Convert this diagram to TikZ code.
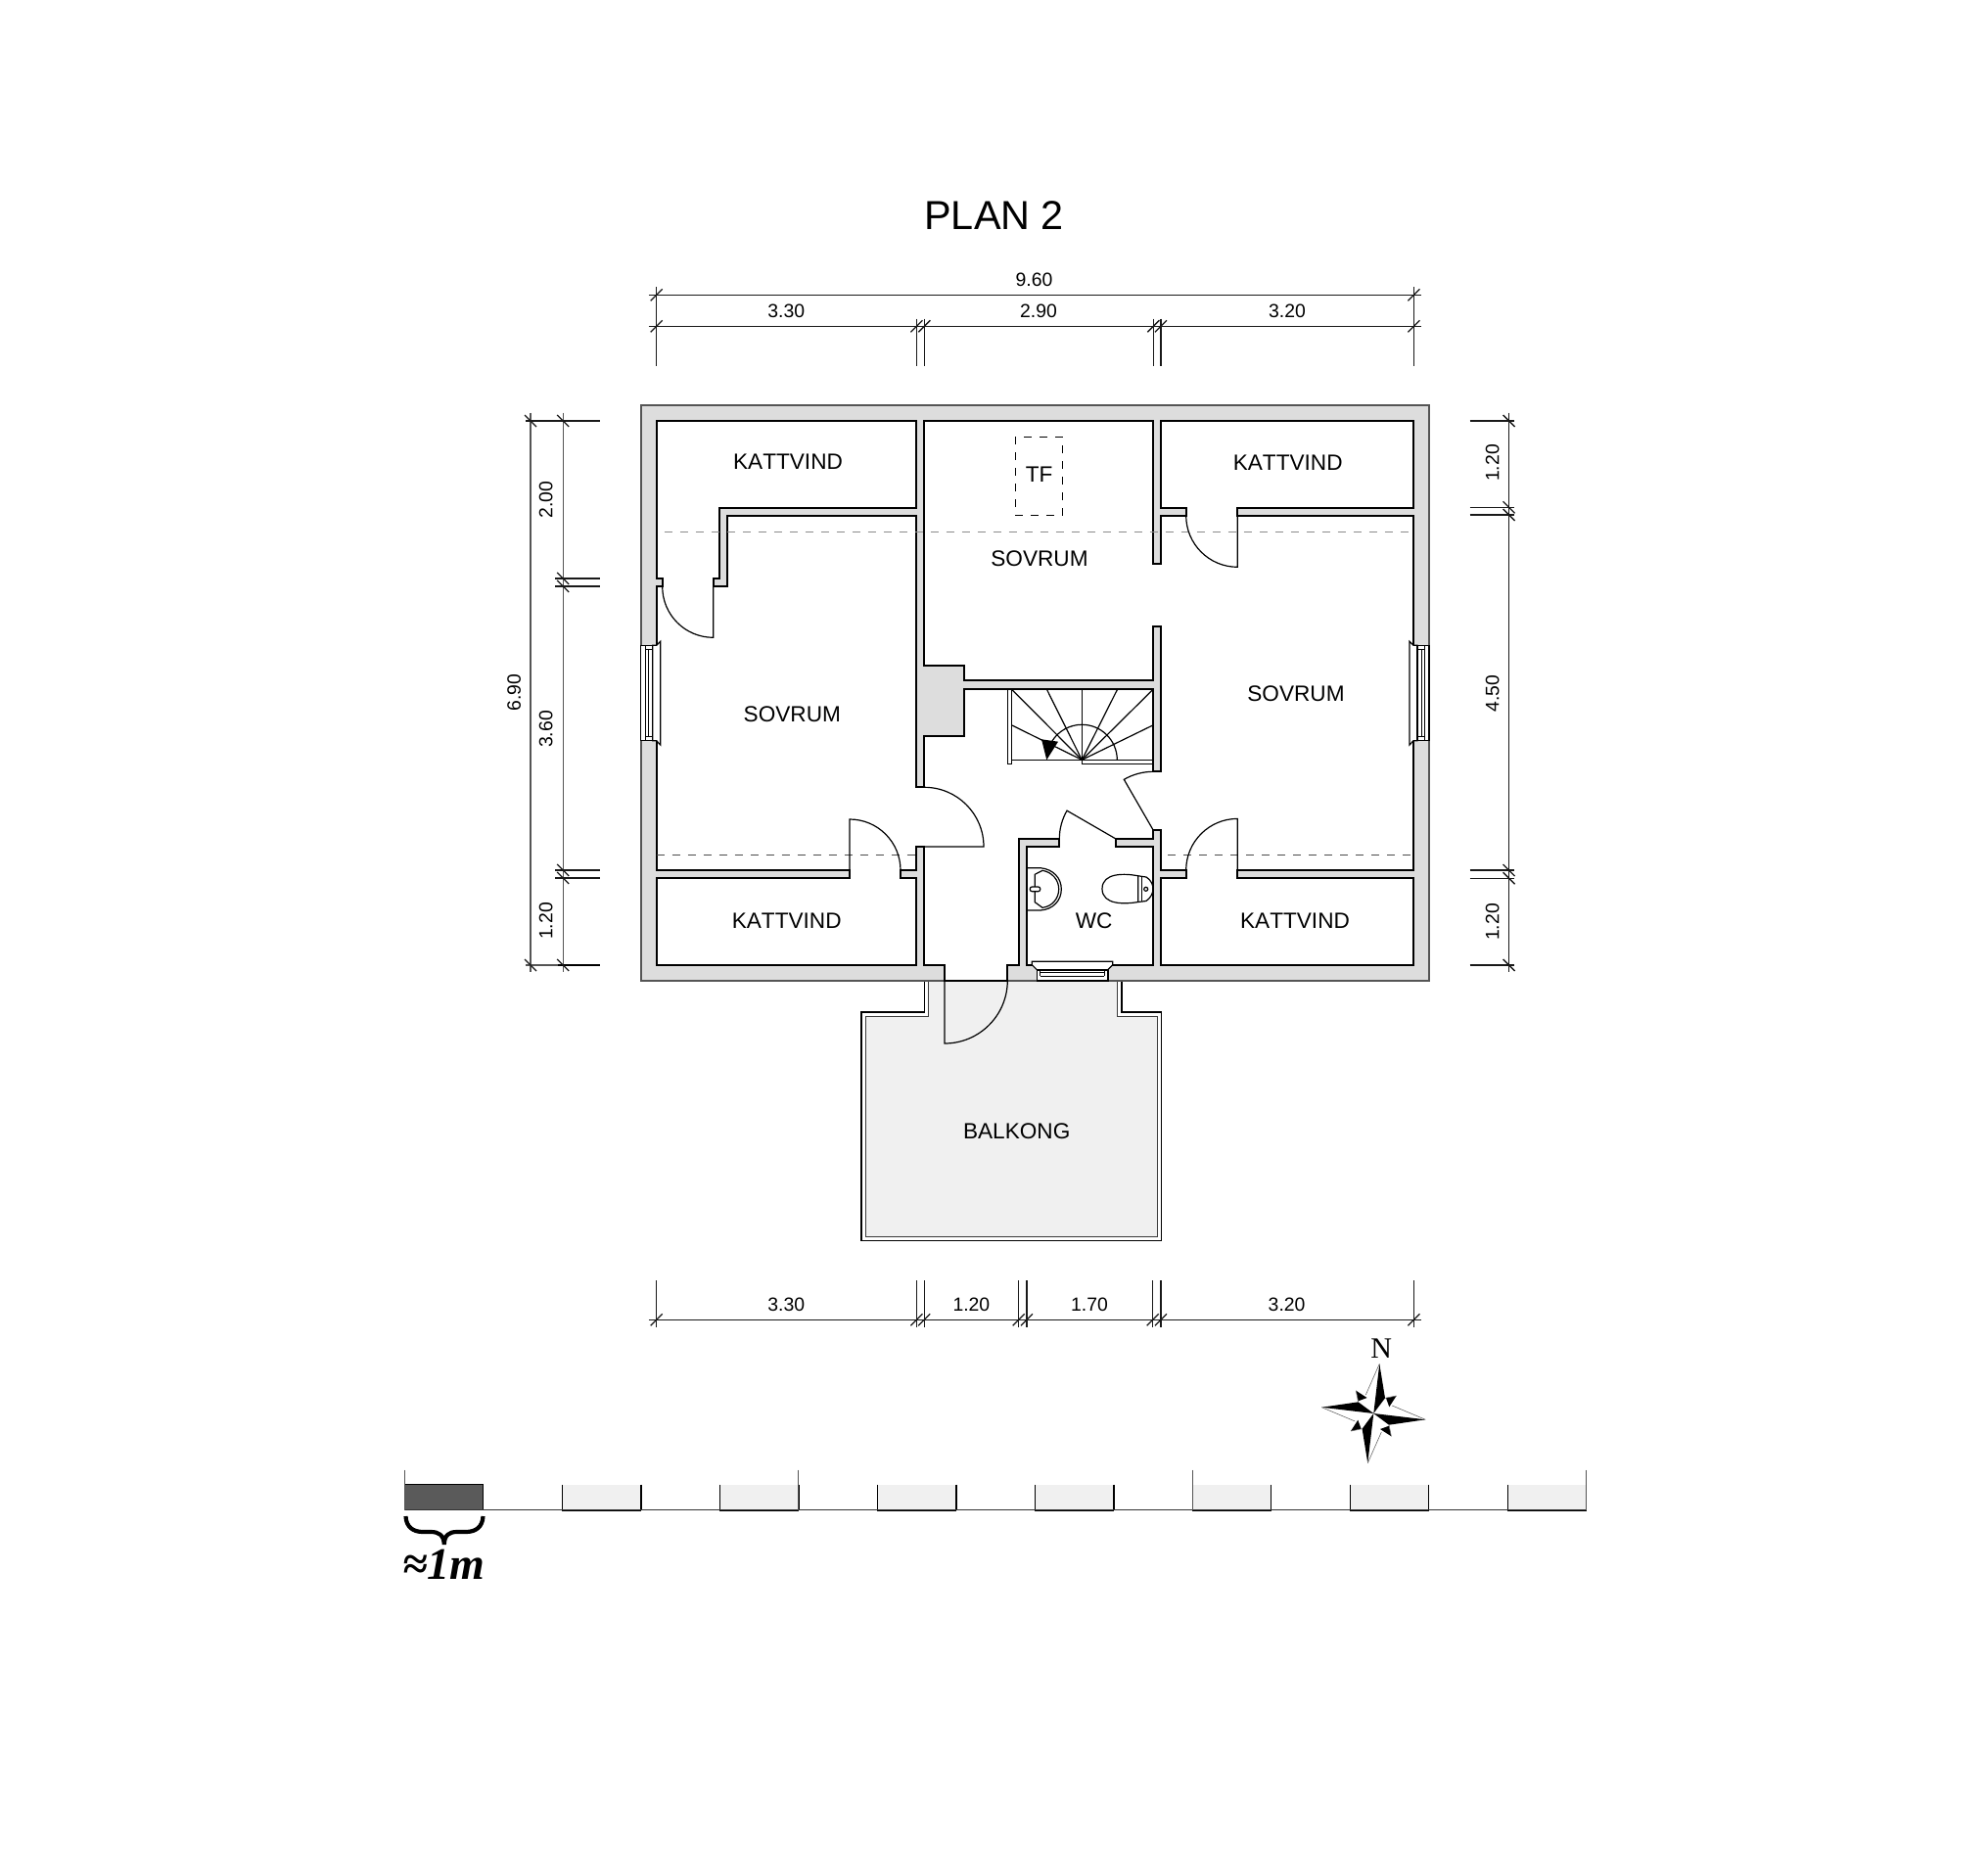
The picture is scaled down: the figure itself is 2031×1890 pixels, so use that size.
\documentclass[tikz,border=0pt]{standalone}
\usepackage{fontspec}
\setmainfont[Kerning=Off]{Liberation Sans}
\newfontfamily\northfont{Liberation Serif}
\usepackage{tikz}
\definecolor{wallgray}{HTML}{DDDDDD}
\definecolor{edgegray}{HTML}{555555}
\definecolor{deckgray}{HTML}{F0F0F0}
\definecolor{barkgray}{HTML}{5A5A5A}
\tikzset{side_window/.pic={
	\draw[thin_line,fill=white] (16,-48.7) -- (20,-52.7) -- (20,53) -- (16,48.7) -- (12,48.7) -- (12,-48.7) -- cycle;
	\draw[thin_line,fill=white] (0,-48.7) rectangle (12,48.7);
	\draw[thin_line] (4.6,-48.7) -- (4.6,48.7) (7.4,-44.7) -- (7.4,44.7) (4.6,-44.7) -- (12,-44.7) (4.6,44.7) -- (12,44.7);
}}

\begin{document}
\begin{tikzpicture}[x=.5pt,y=-.5pt,line join=miter]
	\tikzstyle{wall_line}=[line width=1.1pt,black]
	\tikzstyle{thin_line}=[line width=.6pt,black]
	\tikzstyle{dim_line}=[line width=.65pt,black!90]
	\tikzstyle{dash_line}=[line width=.5pt,dash pattern=on 4pt off 4pt]
	\tikzstyle{room_label}=[inner sep=0pt,font=\fontsize{11.3}{13}\selectfont]
	\tikzstyle{dim_label}=[inner sep=0pt,font=\fontsize{9.7}{11}\selectfont]
	\useasboundingbox (0,0) rectangle (2031,1890);

	\fill[deckgray] (948.7,1001.7) -- (948.7,1038.3) -- (884.1,1038.3) -- (884.1,1263.7) -- (1182.2,1263.7) -- (1182.2,1038.3) -- (1141.7,1038.3) -- (1141.7,1001.7) -- cycle;
	\draw[thin_line,edgegray!70!black] (948.7,1001.7) -- (948.7,1038.3) -- (884.1,1038.3) -- (884.1,1263.7) -- (1182.2,1263.7) -- (1182.2,1038.3) -- (1141.7,1038.3) -- (1141.7,1001.7);
	\draw[thin_line,line width=.75pt] (944.7,1001.7) -- (944.7,1034) -- (880,1034) -- (880,1267.7) -- (1186.4,1267.7) -- (1186.4,1034) -- (1145.9,1034) -- (1145.9,1001.7);

	\draw[line width=.8pt,edgegray,fill=wallgray] (654.7,414) rectangle (1460,1001.7);
	\draw[wall_line,fill=white] (670.7,430) -- (936.3,430) -- (936.3,518.7) -- (735,518.7) -- (735,591) -- (728.7,591) -- (728.7,599.3) -- (743,599.3) -- (743,526.7) -- (936.3,526.7) -- (936.3,804.3) -- (944.3,804.3) -- (944.3,752) -- (985,752) -- (985,704) -- (1178.3,704) -- (1178.3,788.3) -- (1186.3,788.3) -- (1186.3,640.3) -- (1178.3,640.3) -- (1178.3,695.3) -- (985,695.3) -- (985,680) -- (944.3,680) -- (944.3,430) -- (1178.3,430) -- (1178.3,575.7) -- (1186.3,575.7) -- (1186.3,526.7) -- (1211.7,526.7) -- (1211.7,518.7) -- (1186.3,518.7) -- (1186.3,430) -- (1444,430) -- (1444,518.7) -- (1264.3,518.7) -- (1264.3,526.7) -- (1444,526.7) -- (1444,889) -- (1264.3,889) -- (1264.3,897.3) -- (1444,897.3) -- (1444,986) -- (1186.3,986) -- (1186.3,897.3) -- (1211.7,897.3) -- (1211.7,889) -- (1186.3,889) -- (1186.3,848.3) -- (1178.3,848.3) -- (1178.3,857) -- (1140,857) -- (1140,865.3) -- (1178.3,865.3) -- (1178.3,986) -- (1049,986) -- (1049,865.3) -- (1082.3,865.3) -- (1082.3,857) -- (1040.7,857) -- (1040.7,986) -- (1029.3,986) -- (1029.3,1001.7) -- (965,1001.7) -- (965,986) -- (944.3,986) -- (944.3,865) -- (936.3,865) -- (936.3,889) -- (920,889) -- (920,897.3) -- (936.3,897.3) -- (936.3,986) -- (670.7,986) -- (670.7,897.3) -- (868,897.3) -- (868,889) -- (670.7,889) -- (670.7,599.3) -- (676.7,599.3) -- (676.7,591) -- (670.7,591) -- cycle;

	\draw[dash_line,black!45] (678.7,543) -- (1444,543);
	\draw[dash_line,black!70] (670.7,873.3) -- (936.3,873.3);
	\draw[dash_line,black!70] (1193,873.3) -- (1444,873.3);
	\draw[thin_line,dash pattern=on 4pt off 4pt] (1037.3,446.3) rectangle (1085.3,526.7);

	\draw[thin_line] (676.7,599.3) arc (180:90:52) -- (728.7,599.3);
	\draw[thin_line] (944.3,804.3) arc (-90:0:60.7) -- (936.3,865);
	\draw[thin_line] (920,889) arc (0:-90:52) -- (868,889);
	\draw[thin_line] (1211.7,526.7) arc (180:90:52.6) -- (1264.3,526.7);
	\draw[thin_line] (1211.7,889) arc (180:270:52.6) -- (1264.3,889);
	\draw[thin_line] (1178.3,788.3) arc (-90:-120:60) -- (1178.3,848.3);
	\draw[thin_line] (1082.3,857) arc (180:210:57.7) -- (1140,857);
	\draw[thin_line] (1029.3,1001.7) arc (0:90:64.3) -- (965,1001.7);

	\pic at (654.7,708) {side_window};
	\pic[xscale=-1] at (1460,708) {side_window};
	\draw[thin_line,fill=white] (1054.3,982.3) -- (1136.7,982.3) -- (1136.7,985.7) -- (1131.7,990.7) -- (1059.3,990.7) -- (1054.3,985.7) -- cycle;
	\draw[thin_line,line width=.8pt,fill=white] (1059.3,990.7) rectangle (1131.7,1001.7);
	\draw[thin_line] (1062.7,993.3) -- (1128.3,993.3) (1062.7,997.3) -- (1128.3,997.3) (1062.7,990.7) -- (1062.7,997.3) (1128.3,990.7) -- (1128.3,997.3);

	\coordinate (stair_c) at (1105.3,776.3);
	\foreach \tx/\ty in {1033.3/704,1069.3/704,1105.3/704,1141.7/704,1178.3/704,1178.3/740.7,1033.3/740.7}
		\draw[thin_line] (stair_c) -- (\tx,\ty);
	\draw[thin_line] (1141.3,776.3) arc (0:-148:36);
	\draw[thin_line] (1033.3,776.3) -- (1178.3,776.3) (1105.3,780.3) -- (1178.3,780.3) (1105.3,776.3) -- (1105.3,780.3);
	\draw[thin_line,fill=white] (1029.3,704) rectangle (1033.3,780.3);
	\fill[black] (1064,755.3) -- (1081,757.7) -- (1069.3,776.3) -- cycle;

	\draw[thin_line] (1049,886.7) -- (1063,886.7) .. controls (1076,888) and (1084.3,897) .. (1084.3,908.3) .. controls (1084.3,920) and (1076,929) .. (1063,930) -- (1049,930);
	\draw[thin_line] (1057.3,893.3) -- (1065,889.3) .. controls (1075,891) and (1081.7,899) .. (1081.7,908.3) .. controls (1081.7,918) and (1075,926) .. (1065,927.3) -- (1057.3,921.7) -- cycle;
	\draw[thin_line,rounded corners=1pt,fill=white] (1052.3,906) rectangle (1062.7,910.7);
	\draw[thin_line] (1162.7,894.8) .. controls (1150,892.3) and (1126,891) .. (1126,908) .. controls (1126,925) and (1150,923.7) .. (1162.7,921.5) -- cycle;
	\draw[thin_line] (1162.7,894.8) -- (1171,896) .. controls (1176,899) and (1178,904) .. (1178,908) .. controls (1178,912) and (1176,917) .. (1171,920.5) -- (1162.7,921.5);
	\draw[thin_line] (1166.8,895.5) -- (1166.8,921);
	\draw[thin_line] (1170.7,908.3) circle (2);

	\node[room_label] (kv_nw) at (805,471.7) {KATTVIND};
	\node[room_label] (kv_ne) at (1315.7,472.7) {KATTVIND};
	\node[room_label] (kv_sw) at (803.7,940.5) {KATTVIND};
	\node[room_label] (kv_se) at (1323,940.7) {KATTVIND};
	\node[room_label] (sov_w) at (809.3,729.3) {SOVRUM};
	\node[room_label] (sov_n) at (1062,570.7) {SOVRUM};
	\node[room_label] (sov_e) at (1324,708.5) {SOVRUM};
	\node[room_label] (wc) at (1117.7,940.7) {WC};
	\node[room_label] (tf) at (1061.7,485) {TF};
	\node[room_label] (balkong) at (1038.7,1155.5) {BALKONG};
	\node[inner sep=0pt,font=\fontsize{20.7}{24}\selectfont] (title) at (1015.7,220) {PLAN 2};

	\draw[dim_line] (662.7,301.3) -- (1451.5,301.3);
	\draw[dim_line] (662.7,333.3) -- (1451.5,333.3);
	\draw[dim_line] (670.7,293.3) -- (670.7,374);
	\draw[dim_line] (1444.4,293.3) -- (1444.4,374);
	\foreach \x in {936.5,944.3,1178.3,1186}
		\draw[dim_line] (\x,325.7) -- (\x,374);
	\foreach \x in {670.7,1444.4}
		\draw[dim_line] (\x,301.3) +(-6,6) -- +(6,-6);
	\foreach \x in {670.7,936.5,944.3,1178.3,1186,1444.4}
		\draw[dim_line] (\x,333.3) +(-6,6) -- +(6,-6);
	\node[dim_label] (top_all) at (1056.5,285.6) {9.60};
	\node[dim_label] (top_a) at (803.3,318.3) {3.30};
	\node[dim_label] (top_b) at (1061,318.3) {2.90};
	\node[dim_label] (top_c) at (1315,318.3) {3.20};

	\draw[dim_line] (662.7,1348.3) -- (1451.5,1348.3);
	\foreach \x in {670.7,936.5,944.2,1040.6,1049,1177.6,1186,1444.4} {
		\draw[dim_line] (\x,1308.3) -- (\x,1356);
		\draw[dim_line] (\x,1348.3) +(-6,6) -- +(6,-6);
	}
	\node[dim_label] (bot_a) at (803.3,1332.8) {3.30};
	\node[dim_label] (bot_b) at (992.4,1332.8) {1.20};
	\node[dim_label] (bot_c) at (1113,1332.8) {1.70};
	\node[dim_label] (bot_d) at (1314.6,1332.8) {3.20};

	\draw[dim_line] (1541.6,421.5) -- (1541.6,993);
	\foreach \y in {430,518.3,526,889.1,897.2,986} {
		\draw[dim_line] (1501.5,\y) -- (1547,\y);
		\draw[dim_line] (1541.6,\y) +(-6,-6) -- +(6,6);
	}
	\node[dim_label,rotate=90] (right_a) at (1524.8,473) {1.20};
	\node[dim_label,rotate=90] (right_b) at (1524.8,708.5) {4.50};
	\node[dim_label,rotate=90] (right_c) at (1524.8,942) {1.20};

	\draw[dim_line,edgegray] (542,421.5) -- (542,993);
	\draw[dim_line,edgegray] (575.2,421.5) -- (575.2,993);
	\draw[dim_line] (537,430) -- (612.8,430);
	\draw[dim_line,edgegray] (537,986) -- (570,986);
	\draw[wall_line] (570,986) -- (612.8,986);
	\foreach \y in {591,599,889,897}
		\draw[dim_line] (567.4,\y) -- (612.8,\y);
	\foreach \y in {430,986}
		\draw[dim_line] (542,\y) +(-6,-6) -- +(6,6);
	\foreach \y in {430,591,599,889,897,986}
		\draw[dim_line] (575.2,\y) +(-6,-6) -- +(6,6);
	\node[dim_label,rotate=90] (left_all) at (525.3,707.7) {6.90};
	\node[dim_label,rotate=90] (left_a) at (557.7,510.3) {2.00};
	\node[dim_label,rotate=90] (left_b) at (557.7,745) {3.60};
	\node[dim_label,rotate=90] (left_c) at (557.7,941) {1.20};

	\node[inner sep=0pt,font=\northfont\fontsize{15}{17}\selectfont] (north) at (1411.2,1377.5) {N};
	\foreach \r/\s in {0/1,90/1.045,180/1,270/1.045} {
		\begin{scope}[shift={(1403.3,1444)},rotate=\r]
			\fill[black] (6*\s,-50.7*\s) -- (11.7,-15.7) -- (0,0) -- cycle;
			\draw[line width=.3pt,black!60] (6*\s,-50.7*\s) -- (-8,-19);
			\fill[black] (23.3,-18) -- (12.7,-15.7) -- (16,-6.7) -- cycle;
			\draw[line width=.3pt,black!60] (23.3,-18) -- (11.7,-15.7);
		\end{scope}
	}

	\foreach \x in {574.3,735.3,896.3,1057.3,1218.2,1379.2,1540.2} {
		\fill[deckgray] (\x,1516.7) rectangle +(80.5,26);
		\draw[line width=.7pt,black] (\x,1516.7) -- +(0,26) (\x+80.5,1516.7) -- +(0,26);
		\draw[line width=.9pt,black] (\x,1542.7) -- +(80.5,0);
	}
	\draw[line width=.6pt,black,fill=barkgray] (413.3,1516.7) rectangle (493.8,1542.7);
	\draw[line width=.7pt,edgegray!60!black] (413.3,1542.7) -- (1620.7,1542.7);
	\foreach \x in {413.3,815.8,1218.2,1620.7}
		\draw[line width=.4pt,edgegray] (\x,1501.7) -- (\x,1542.7);
	\draw[line width=2.1pt,black] (414.5,1549) .. controls (415,1560) and (422,1565) .. (432,1565) -- (440,1565) .. controls (448,1565) and (453.5,1568) .. (453.8,1578) .. controls (454,1568) and (459,1565) .. (467,1565) -- (476,1565) .. controls (486,1565) and (493,1560) .. (493.5,1549);
	\node[inner sep=0pt,font=\northfont\bfseries\itshape\fontsize{23}{25}\selectfont] (one_m) at (453.3,1598.3) {≈1m};
\end{tikzpicture}
\end{document}
